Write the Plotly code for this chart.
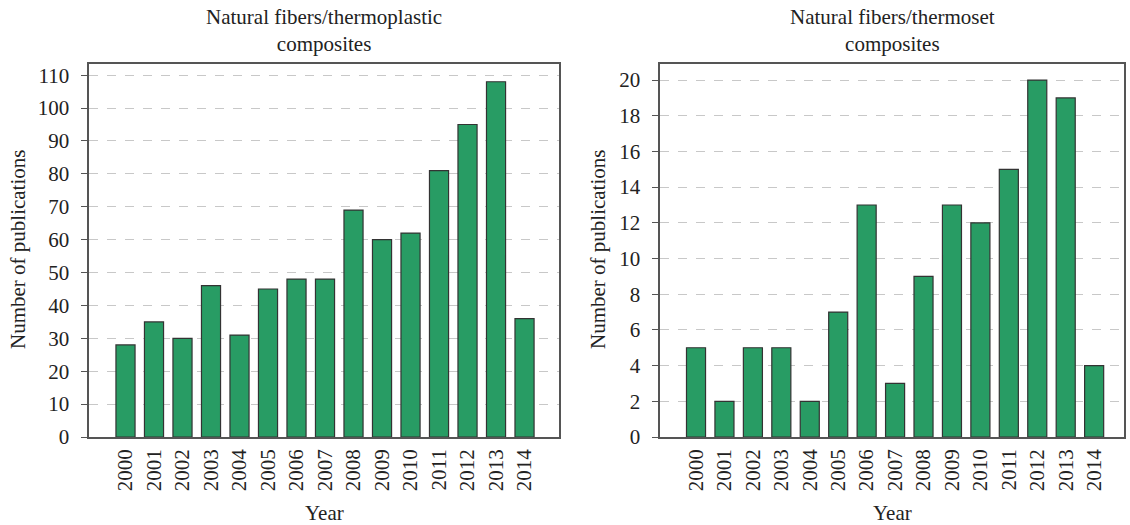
import plotly.graph_objects as go

years = [str(y) for y in range(2000, 2015)]
thermoplastic = [28, 35, 30, 46, 31, 45, 48, 48, 69, 60, 62, 81, 95, 108, 36]
thermoset = [5, 2, 5, 5, 2, 7, 13, 3, 9, 13, 12, 15, 20, 19, 4]

title_left = "Natural fibers/thermoplastic<br>composites"
title_right = "Natural fibers/thermoset<br>composites"
ytitle = "Number of publications"
xtitle = "Year"

FONT = "Liberation Serif, Times New Roman, serif"
FS = 21
BAR = "#289c64"
EDGE = "#333333"
AX = "#555555"
TXT = "#222222"

W, H = 1130, 525


def px(x):
    return x / W


def py(y):
    return 1 - y / H


fig = go.Figure()
fig.add_trace(go.Bar(x=years, y=thermoplastic, xaxis="x", yaxis="y", width=0.67,
                     marker=dict(color=BAR, line=dict(color=EDGE, width=1.2)), showlegend=False))
fig.add_trace(go.Bar(x=years, y=thermoset, xaxis="x2", yaxis="y2", width=0.67,
                     marker=dict(color=BAR, line=dict(color=EDGE, width=1.2)), showlegend=False))

ydom = [py(437), py(64)]
xdom1 = [px(89.3), px(559.3)]
xdom2 = [px(660.3), px(1124)]

xcommon = dict(type="category", showline=True, linecolor=AX, linewidth=1.5, mirror=True,
               ticks="", showgrid=False, tickangle=-90, automargin=False,
               tickfont=dict(family=FONT, size=FS, color=TXT), ticklabelstandoff=2)
ycommon = dict(showline=True, linecolor=AX, linewidth=1.5, mirror=True, automargin=False,
               ticks="outside", ticklen=7, tickcolor=AX, tickwidth=1.2,
               showgrid=True, gridcolor="#c8c8c8", griddash="dash", gridwidth=1,
               zeroline=False, tickfont=dict(family=FONT, size=FS, color=TXT),
               ticklabelstandoff=7)

fig.update_layout(
    template="none",
    width=W, height=H, margin=dict(l=0, r=0, t=0, b=0, pad=0),
    plot_bgcolor="white", paper_bgcolor="white", bargap=0.33,
    xaxis=dict(domain=xdom1, range=[-1.27, 15.22], anchor="y", **xcommon),
    yaxis=dict(domain=ydom, range=[0, 113.4], dtick=10, anchor="x", **ycommon),
    xaxis2=dict(domain=xdom2, range=[-1.256, 15.05], anchor="y2", **xcommon),
    yaxis2=dict(domain=ydom, range=[0, 20.9], dtick=2, anchor="x2", **ycommon),
)

ann = []
tf = dict(family=FONT, size=FS, color=TXT)
for xd, t in ((xdom1, title_left), (xdom2, title_right)):
    ann.append(dict(text=t, x=(xd[0] + xd[1]) / 2, y=py(31), xref="paper", yref="paper",
                    showarrow=False, font=tf, xanchor="center", yanchor="middle"))
    ann.append(dict(text=xtitle, x=(xd[0] + xd[1]) / 2, y=py(513), xref="paper", yref="paper",
                    showarrow=False, font=tf, xanchor="center", yanchor="middle"))
for xc in (18, 598):
    ann.append(dict(text=ytitle, x=px(xc), y=py(250), xref="paper", yref="paper", textangle=-90,
                    showarrow=False, font=tf, xanchor="center", yanchor="middle"))
fig.update_layout(annotations=ann)

fig.write_html("out.html", config={"displayModeBar": False},
               post_script="document.body.style.margin='0';document.body.style.overflow='hidden';")
